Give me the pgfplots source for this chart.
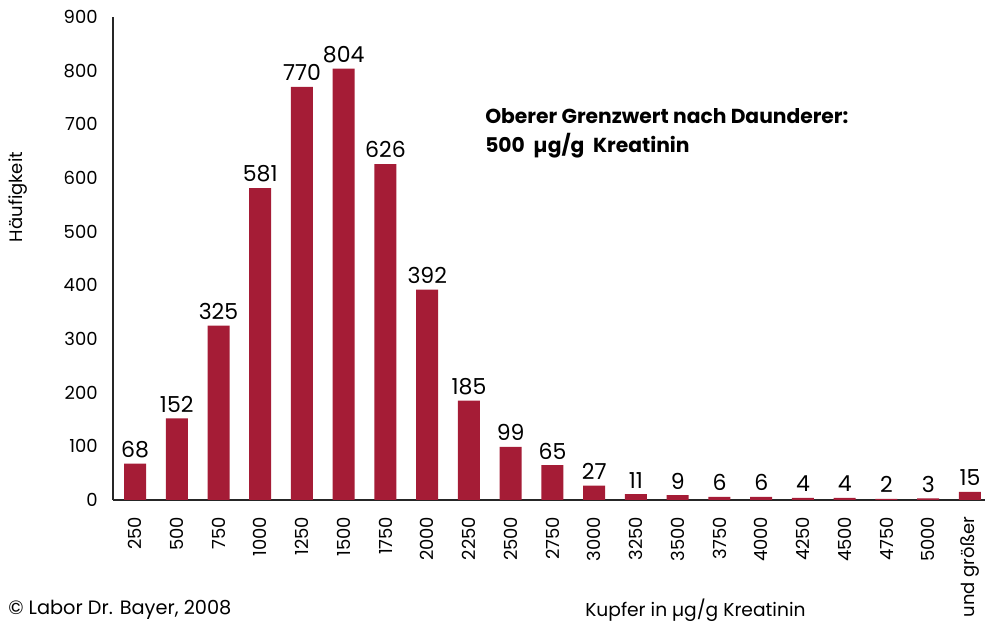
\documentclass[border=0pt]{standalone}
\usepackage{fontspec}
\setmainfont{Poppins}
\usepackage{pgfplots}
\pgfplotsset{compat=1.18}
\definecolor{barred}{HTML}{A51C36}
\begin{document}
\begin{tikzpicture}
\useasboundingbox (0,0) rectangle (738.75pt,470.25pt);
\begin{axis}[
  at={(84.75pt,95.25pt)}, anchor=south west,
  scale only axis, width=654pt, height=362.25pt,
  xmin=-0.527, xmax=20.36, ymin=0, ymax=900,
  axis x line*=bottom, axis y line*=left,
  axis line style={-, line width=0.8pt, black!85},
  ytick={0,100,...,900},
  xtick={0,...,20},
  xticklabels={250,500,750,1000,1250,1500,1750,2000,2250,2500,2750,3000,3250,3500,3750,4000,4250,4500,4750,5000,und größer},
  x tick label style={rotate=90, anchor=east, font=\fontsize{13.5}{15}\selectfont},
  xticklabel shift=9pt,
  y tick label style={font=\fontsize{13.5}{15}\selectfont},
  yticklabel shift=8pt,
  /pgf/number format/assume math mode=true,
  /pgf/number format/1000 sep={},
  major tick length=0pt,
  ybar, bar width=16.5pt,
  nodes near coords,
  every node near coord/.append style={font=\fontsize{16.5}{18}\selectfont, black, yshift=1pt},
]
\addplot[fill=barred, draw=none] coordinates {
(0,68) (1,152) (2,325) (3,581) (4,770) (5,804) (6,626) (7,392) (8,185) (9,99)
(10,65) (11,27) (12,11) (13,9) (14,6) (15,6) (16,4) (17,4) (18,2) (19,3) (20,15)
};
\end{axis}
\node[rotate=90, font=\fontsize{13.5}{15}\selectfont] at (13.5pt,322.5pt) {Häufigkeit};
\node[anchor=west, inner sep=0pt, font=\fontsize{14.5}{16}\selectfont] at (6pt,12.75pt) {© Labor Dr. Bayer, 2008};
\node[anchor=west, inner sep=0pt, font=\fontsize{14}{16}\selectfont] at (438.75pt,12.75pt) {Kupfer in µg/g Kreatinin};
\node[anchor=base west, inner sep=0pt, font=\bfseries\fontsize{15.2}{17}\selectfont] at (363.75pt,377.25pt) {Oberer Grenzwert nach Daunderer:};
\node[anchor=base west, inner sep=0pt, font=\bfseries\fontsize{15.2}{17}\selectfont] at (363.75pt,355.5pt) {500~ µg/g~ Kreatinin};
\end{tikzpicture}
\end{document}
